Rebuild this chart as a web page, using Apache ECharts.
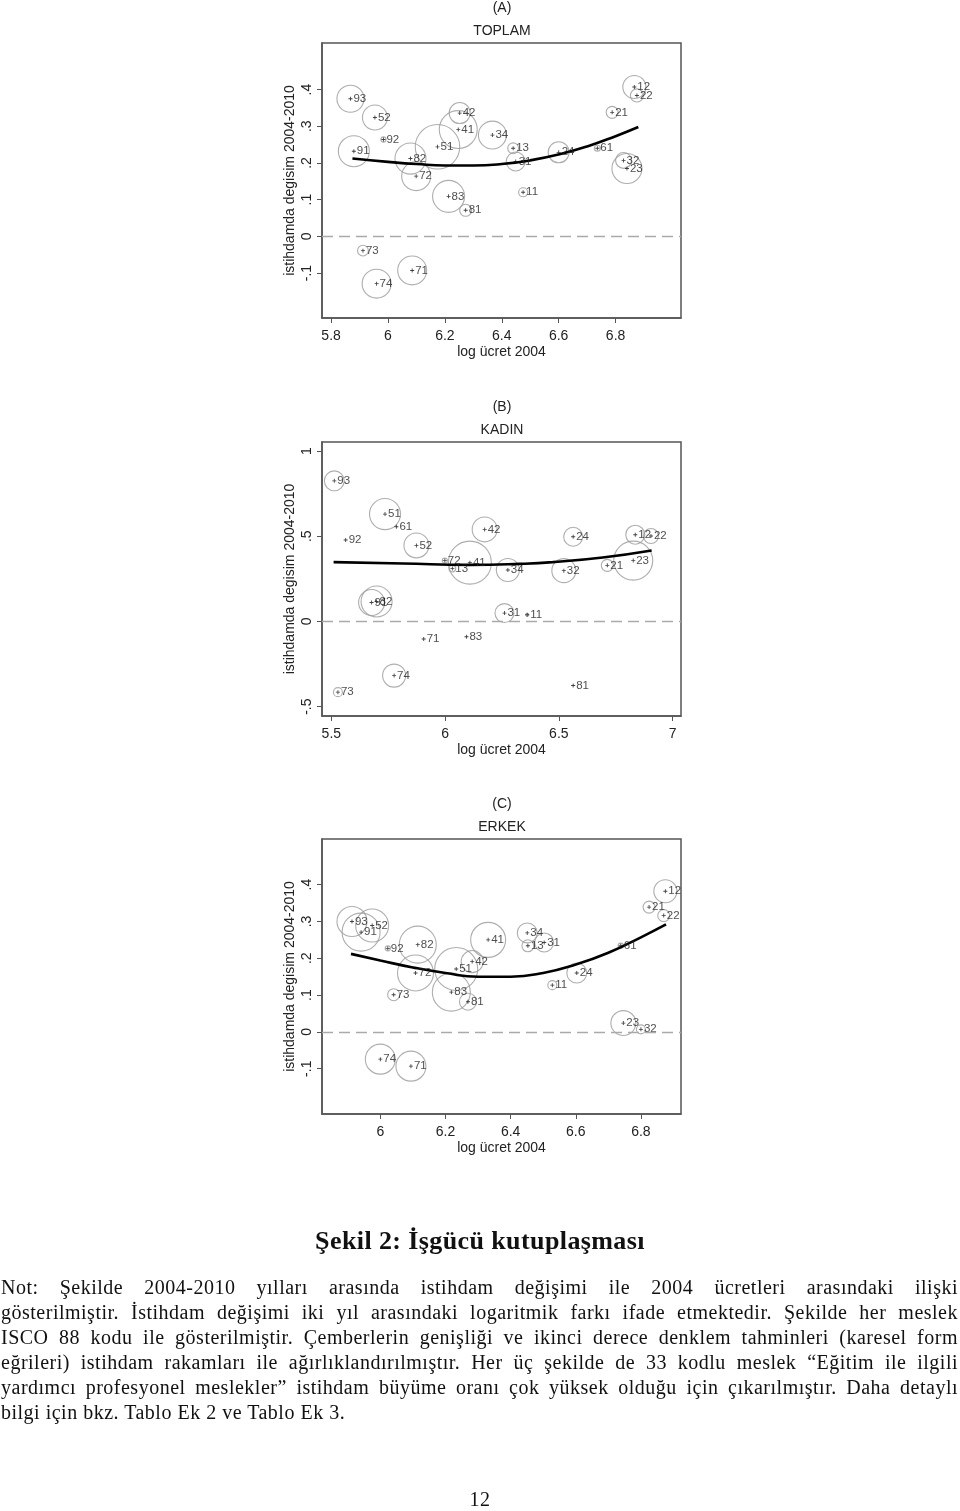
<!DOCTYPE html>
<html>
<head>
<meta charset="utf-8">
<script src="https://cdn.jsdelivr.net/npm/echarts@6/dist/echarts.min.js"></script>
<style>
  html, body { margin:0; padding:0; background:#fff; }
  #chart { position:absolute; left:0; top:0; width:960px; height:1511px; }
  .cap { position:absolute; left:1px; width:957px; font-family:"Liberation Serif", serif; font-size:20px; letter-spacing:0.5px; line-height:25px; color:#111; white-space:nowrap; }
  .j { text-align:justify; text-align-last:justify; white-space:normal; }
</style>
</head>
<body>
<div id="chart"></div>
<div class="cap" style="top:1226px;left:0;width:960px;text-align:center;font-weight:bold;font-size:26px;letter-spacing:0.4px;line-height:30px;">Şekil 2: İşgücü kutuplaşması</div>
<div class="cap j" style="top:1275px;">Not: Şekilde 2004-2010 yılları arasında istihdam değişimi ile 2004 ücretleri arasındaki ilişki</div>
<div class="cap j" style="top:1300px;">gösterilmiştir. İstihdam değişimi iki yıl arasındaki logaritmik farkı ifade etmektedir. Şekilde her meslek</div>
<div class="cap j" style="top:1325px;">ISCO 88 kodu ile gösterilmiştir. Çemberlerin genişliği ve ikinci derece denklem tahminleri (karesel form</div>
<div class="cap j" style="top:1350px;">eğrileri) istihdam rakamları ile ağırlıklandırılmıştır. Her üç şekilde de 33 kodlu meslek “Eğitim ile ilgili</div>
<div class="cap j" style="top:1375px;">yardımcı profesyonel meslekler” istihdam büyüme oranı çok yüksek olduğu için çıkarılmıştır. Daha detaylı</div>
<div class="cap" style="top:1400px;">bilgi için bkz. Tablo Ek 2 ve Tablo Ek 3.</div>
<div class="cap" style="top:1487px;left:0;width:960px;text-align:center;">12</div>
<script>
// ---------- Panel A: TOPLAM ----------
const codesA  = ['93','52','92','91','82','72','51','42','41','34','13','31','11','24','61','21','12','22','32','23','83','81','73','71','74'];
const wageA   = [5.868,5.954,5.984,5.880,6.079,6.099,6.174,6.252,6.247,6.367,6.440,6.449,6.475,6.600,6.736,6.788,6.866,6.875,6.828,6.840,6.213,6.273,5.912,6.085,5.960];
const changeA = [0.375,0.324,0.264,0.232,0.212,0.164,0.244,0.336,0.291,0.276,0.240,0.204,0.120,0.229,0.240,0.338,0.407,0.384,0.207,0.185,0.109,0.071,-0.039,-0.093,-0.129];
const empA    = [81,69,3,107,107,93,220,49,160,87,13,40,9,49,4,16,59,19,28,100,114,16,13,93,93];
const fitXA   = [5.875,6.0,6.1,6.2,6.3,6.4,6.5,6.6,6.7,6.8,6.88];
const fitYA   = [0.212,0.203,0.197,0.193,0.193,0.197,0.207,0.223,0.245,0.273,0.298];

// ---------- Panel B: KADIN ----------
const codesB  = ['93','51','61','92','52','42','72','41','13','34','24','32','21','12','22','23','91','82','31','11','71','83','74','73','81'];
const wageB   = [5.513,5.736,5.786,5.563,5.874,6.174,5.999,6.109,6.032,6.276,6.563,6.522,6.713,6.836,6.905,6.827,5.677,5.699,6.261,6.361,5.906,6.094,5.776,5.529,6.563];
const changeB = [0.825,0.630,0.556,0.478,0.446,0.540,0.357,0.345,0.310,0.302,0.497,0.298,0.329,0.509,0.501,0.357,0.111,0.117,0.049,0.039,-0.103,-0.090,-0.318,-0.415,-0.376];
const empB    = [44,107,0,0,69,69,3,205,5,59,40,64,16,40,25,169,75,107,40,1,0,0,59,9,0];
const fitXB   = [5.51,5.815,6.108,6.328,6.473,6.693,6.908];
const fitYB   = [0.348,0.340,0.332,0.338,0.348,0.375,0.416];

// ---------- Panel C: ERKEK ----------
const codesC  = ['93','91','52','92','82','72','51','42','83','81','41','34','13','31','11','24','61','12','21','22','23','32','73','74','71'];
const wageC   = [5.913,5.941,5.975,6.023,6.115,6.108,6.233,6.282,6.218,6.269,6.331,6.451,6.453,6.503,6.528,6.603,6.738,6.875,6.825,6.870,6.746,6.800,6.041,6.000,6.094];
const changeC = [0.300,0.271,0.289,0.227,0.237,0.160,0.171,0.191,0.108,0.082,0.250,0.269,0.234,0.243,0.127,0.160,0.234,0.382,0.339,0.316,0.024,0.007,0.101,-0.074,-0.093];
const empC    = [100,160,121,3,152,144,205,54,160,32,136,44,16,40,9,44,3,59,16,16,69,9,16,100,100];
const fitXC   = [5.91,6.0,6.1,6.2,6.3,6.4,6.5,6.6,6.7,6.8,6.877];
const fitYC   = [0.212,0.194,0.175,0.160,0.150,0.150,0.160,0.183,0.215,0.257,0.292];

// ---------- Axis ticks ----------
const xTicksA = [5.8,6,6.2,6.4,6.6,6.8];
const yTicksA = [-0.1,0,0.1,0.2,0.3,0.4];
const xTicksB = [5.5,6,6.5,7];
const yTicksB = [-0.5,0,0.5,1];
const xTicksC = [6,6.2,6.4,6.6,6.8];
const yTicksC = [-0.1,0,0.1,0.2,0.3,0.4];

const panels = [
  {tag:'(A)', name:'TOPLAM', codes:codesA, wage:wageA, change:changeA, emp:empA, fx:fitXA, fy:fitYA,
   xt:xTicksA, yt:yTicksA, top:43, height:275, xmin:5.768, xmax:7.03, ymin:-0.2226, ymax:0.527},
  {tag:'(B)', name:'KADIN', codes:codesB, wage:wageB, change:changeB, emp:empB, fx:fitXB, fy:fitYB,
   xt:xTicksB, yt:yTicksB, top:442, height:274, xmin:5.459, xmax:7.037, ymin:-0.555, ymax:1.053},
  {tag:'(C)', name:'ERKEK', codes:codesC, wage:wageC, change:changeC, emp:empC, fx:fitXC, fy:fitYC,
   xt:xTicksC, yt:yTicksC, top:839, height:275, xmin:5.821, xmax:6.923, ymin:-0.223, ymax:0.524}
];

const FONT = '"Liberation Sans", Arial, sans-serif';
const AX = '#555';
function stataFmt(v) {
  let r = Math.round(v * 1000) / 1000;
  let s = String(r);
  if (s.startsWith('0.')) s = s.slice(1);
  else if (s.startsWith('-0.')) s = '-' + s.slice(2);
  return s;
}
const plusPath = 'path://M-1,-0.22H1V0.22H-1Z M-0.22,-1H0.22V1H-0.22Z';

const grid = [], xAxis = [], yAxis = [], series = [], graphic = [];
const LEFT = 322, WIDTH = 359;
panels.forEach((p, i) => {
  grid.push({left:LEFT, top:p.top, width:WIDTH, height:p.height, show:true, borderColor:AX, borderWidth:1.5, backgroundColor:'#fff'});
  xAxis.push({
    gridIndex:i, type:'value', min:p.xmin, max:p.xmax,
    name:'log ücret 2004', nameLocation:'middle', nameGap:27,
    nameTextStyle:{fontFamily:FONT, fontSize:14, color:'#222'},
    axisLine:{show:true, onZero:false, lineStyle:{color:AX, width:1.5}},
    axisTick:{show:true, length:5, lineStyle:{color:AX}, customValues:p.xt},
    axisLabel:{margin:11, fontFamily:FONT, fontSize:14, color:'#222', customValues:p.xt, formatter:stataFmt},
    splitLine:{show:false}
  });
  yAxis.push({
    gridIndex:i, type:'value', min:p.ymin, max:p.ymax,
    name:'istihdamda degisim 2004-2010', nameLocation:'middle', nameGap:25, nameRotate:90,
    nameTextStyle:{fontFamily:FONT, fontSize:14, color:'#222'},
    axisLine:{show:true, onZero:false, lineStyle:{color:AX, width:1.5}},
    axisTick:{show:true, length:5, lineStyle:{color:AX}, customValues:p.yt},
    axisLabel:{margin:8, rotate:90, fontFamily:FONT, fontSize:14, color:'#222', customValues:p.yt, formatter:stataFmt},
    splitLine:{show:false}
  });
  // zero reference line
  series.push({
    type:'line', xAxisIndex:i, yAxisIndex:i, data:[], silent:true,
    markLine:{silent:true, symbol:['none','none'], label:{show:false},
      lineStyle:{type:[11,6], color:'#aaa', width:1.3}, data:[{yAxis:0}]}
  });
  // bubbles
  series.push({
    type:'scatter', xAxisIndex:i, yAxisIndex:i, silent:true,
    data:p.wage.map((w, k) => [w, p.change[k], p.emp[k]]),
    symbol:'circle',
    symbolSize: d => 3 * Math.sqrt(d[2]),
    itemStyle:{color:'rgba(0,0,0,0)', borderColor:'#9a9a9a', borderWidth:1.1},
    z:2
  });
  // fitted quadratic curve
  series.push({
    type:'line', xAxisIndex:i, yAxisIndex:i, silent:true,
    data:p.fx.map((x, k) => [x, p.fy[k]]),
    smooth:true, showSymbol:false, symbol:'none',
    lineStyle:{color:'#000', width:2.6}, z:3
  });
  // centre markers with ISCO code labels
  series.push({
    type:'scatter', xAxisIndex:i, yAxisIndex:i, silent:true,
    data:p.wage.map((w, k) => ({value:[w, p.change[k]], name:p.codes[k]})),
    symbol:plusPath, symbolSize:4,
    itemStyle:{color:'#111'},
    label:{show:true, position:'right', distance:1, formatter:'{b}', fontFamily:FONT, fontSize:11.5, color:'#222'},
    z:4
  });
  graphic.push({type:'text', x:502, y:p.top - 35, style:{text:p.tag, font:'14px ' + FONT, fill:'#222', textAlign:'center', textVerticalAlign:'middle'}});
  graphic.push({type:'text', x:502, y:p.top - 12, style:{text:p.name, font:'14px ' + FONT, fill:'#222', textAlign:'center', textVerticalAlign:'middle'}});
});

const chart = echarts.init(document.getElementById('chart'), null, {renderer:'canvas'});
chart.setOption({animation:false, backgroundColor:'#fff', grid, xAxis, yAxis, series, graphic});
</script>
</body>
</html>
